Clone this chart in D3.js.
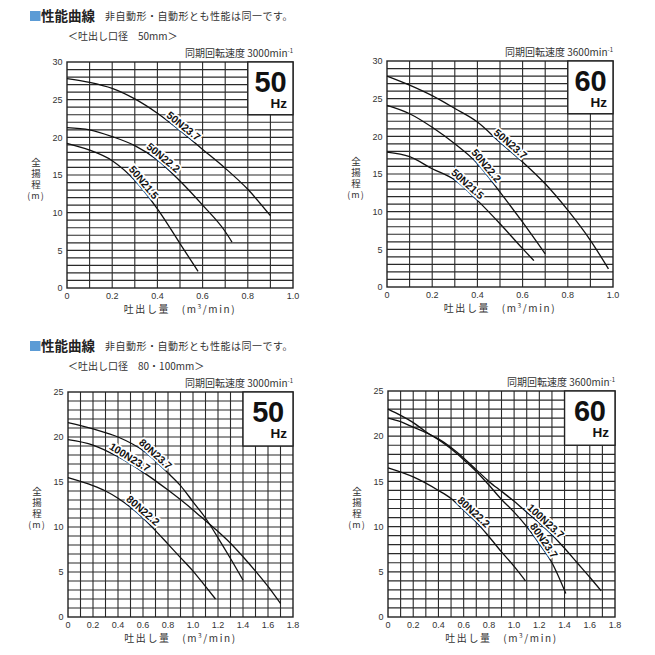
<!DOCTYPE html>
<html>
<head>
<meta charset="utf-8">
<script src="https://cdn.jsdelivr.net/npm/d3@7"></script>
<style>
  body { margin: 0; background: #fff; }
  svg { display: block; }
  .jp { font-family: "Noto Sans CJK JP", sans-serif; }
  .num { font-family: "Liberation Sans", Arial, sans-serif; }
</style>
</head>
<body>
<svg id="chart" width="655" height="655"></svg>
<script>
// performance curves: [flow m3/min, head m]
// 50mm discharge, 50Hz
var c50_50N237 = [[0,27.8],[0.1,27.3],[0.2,26.5],[0.3,25.1],[0.4,23.2],[0.5,20.9],[0.6,18.4],[0.7,15.9],[0.8,13.1],[0.9,9.6]];
var c50_50N222 = [[0,21.3],[0.1,21.0],[0.2,20.1],[0.3,18.9],[0.4,17.0],[0.5,14.2],[0.6,11.0],[0.7,7.5],[0.73,6.1]];
var c50_50N215 = [[0,19.2],[0.1,18.3],[0.2,16.9],[0.3,14.3],[0.4,10.5],[0.5,5.9],[0.58,2.2]];
// 50mm discharge, 60Hz
var c60_50N237 = [[0,28.0],[0.1,26.8],[0.2,25.4],[0.3,23.7],[0.4,21.9],[0.5,19.2],[0.6,16.6],[0.7,13.7],[0.8,10.2],[0.9,6.2],[0.98,2.4]];
var c60_50N222 = [[0,24.1],[0.1,23.0],[0.2,21.2],[0.3,19.0],[0.4,16.4],[0.5,12.6],[0.6,8.6],[0.7,4.4]];
var c60_50N215 = [[0,17.9],[0.1,17.3],[0.2,15.7],[0.3,14.2],[0.4,11.5],[0.5,8.4],[0.6,5.1],[0.65,3.5]];
// 80/100mm discharge, 50Hz
var c50_80N237 = [[0,21.6],[0.2,20.9],[0.4,20.0],[0.6,18.5],[0.8,16.0],[0.9,14.6],[1.0,12.8],[1.1,11.0],[1.2,8.8],[1.3,6.5],[1.4,4.1]];
var c50_100N237 = [[0,19.7],[0.2,19.1],[0.4,17.8],[0.6,16.1],[0.8,14.1],[1.0,11.9],[1.1,10.7],[1.2,9.5],[1.3,8.2],[1.4,6.7],[1.5,5.1],[1.6,3.4],[1.7,1.5]];
var c50_80N222 = [[0,15.5],[0.2,14.6],[0.3,14.0],[0.4,13.2],[0.5,12.2],[0.6,11.0],[0.7,9.6],[0.8,8.1],[0.9,6.6],[1.0,5.1],[1.1,3.4],[1.18,2.0]];
// 80/100mm discharge, 60Hz
var c60_80N237 = [[0,23.0],[0.1,22.3],[0.2,21.5],[0.3,20.5],[0.4,19.6],[0.5,18.6],[0.6,17.4],[0.7,16.1],[0.8,14.6],[0.9,13.0],[1.0,11.6],[1.1,10.0],[1.2,8.1],[1.3,6.0],[1.41,2.6]];
var c60_100N237 = [[0,22.0],[0.1,21.6],[0.2,21.0],[0.3,20.4],[0.4,19.7],[0.5,18.75],[0.6,17.6],[0.7,16.3],[0.8,15.0],[0.9,13.9],[1.0,12.8],[1.1,11.6],[1.2,10.4],[1.3,9.1],[1.4,7.6],[1.5,6.0],[1.6,4.4],[1.69,2.9]];
var c60_80N222 = [[0,16.5],[0.2,15.5],[0.4,14.0],[0.5,13.1],[0.6,11.8],[0.7,10.5],[0.8,8.9],[0.9,7.2],[1.0,5.6],[1.09,4.0]];

var ticksQ50 = [0, 0.2, 0.4, 0.6, 0.8, 1.0];
var ticksQ80 = [0, 0.2, 0.4, 0.6, 0.8, 1.0, 1.2, 1.4, 1.6, 1.8];
var ticksH30 = [0, 5, 10, 15, 20, 25, 30];
var ticksH25 = [0, 5, 10, 15, 20, 25];

var blocks = [
  {y: 0, size: "＜吐出し口径　50mm＞"},
  {y: 330, size: "＜吐出し口径　80・100mm＞"}
];

var panels = [
  {x0: 67, x1: 293, y0: 62, y1: 288, qMax: 1.0, hMax: 30, qt: ticksQ50, ht: ticksH30, hz: "50", speed: "3000", boxQ: 0.8, boxH: 23,
   curves: [{d: c50_50N237, name: "50N23.7", at: 0.50}, {d: c50_50N222, name: "50N22.2", at: 0.41}, {d: c50_50N215, name: "50N21.5", at: 0.32}]},
  {x0: 387, x1: 613, y0: 61, y1: 287, qMax: 1.0, hMax: 30, qt: ticksQ50, ht: ticksH30, hz: "60", speed: "3600", boxQ: 0.8, boxH: 23,
   curves: [{d: c60_50N237, name: "50N23.7", at: 0.53}, {d: c60_50N222, name: "50N22.2", at: 0.42}, {d: c60_50N215, name: "50N21.5", at: 0.34}]},
  {x0: 68, x1: 293, y0: 392, y1: 617, qMax: 1.8, hMax: 25, qt: ticksQ80, ht: ticksH25, hz: "50", speed: "3000", boxQ: 1.4, boxH: 19,
   curves: [{d: c50_80N237, name: "80N23.7", at: 0.67}, {d: c50_100N237, name: "100N23.7", at: 0.47}, {d: c50_80N222, name: "80N22.2", at: 0.57}]},
  {x0: 388, x1: 615, y0: 391, y1: 617, qMax: 1.8, hMax: 25, qt: ticksQ80, ht: ticksH25, hz: "60", speed: "3600", boxQ: 1.4, boxH: 19,
   curves: [{d: c60_100N237, name: "100N23.7", at: 1.22}, {d: c60_80N237, name: "80N23.7", at: 1.2}, {d: c60_80N222, name: "80N22.2", at: 0.65}]}
];

var svg = d3.select("#chart");
svg.append("rect").attr("width", 655).attr("height", 655).attr("fill", "#fff");

// headings
blocks.forEach(function(b) {
  var g = svg.append("g").attr("transform", "translate(0," + b.y + ")");
  g.append("rect").attr("x", 30).attr("y", 11).attr("width", 10.5).attr("height", 10).attr("fill", "#5b9bd5");
  g.append("text").attr("class", "jp").attr("x", 41).attr("y", 20.5)
    .attr("font-size", 13.5).attr("font-weight", "bold").attr("fill", "#222").text("性能曲線");
  g.append("text").attr("class", "jp").attr("x", 105).attr("y", 20)
    .attr("font-size", 10).attr("letter-spacing", 0.5).attr("fill", "#333").text("非自動形・自動形とも性能は同一です。");
  g.append("text").attr("class", "jp").attr("x", 68).attr("y", 40)
    .attr("font-size", 10).attr("fill", "#333").text(b.size);
});

function headAt(d, q) {
  var i = d3.bisector(function(p) { return p[0]; }).left(d, q);
  i = Math.max(1, Math.min(d.length - 1, i));
  var a = d[i - 1], b = d[i];
  return a[1] + (b[1] - a[1]) * (q - a[0]) / (b[0] - a[0]);
}

panels.forEach(function(p) {
  var x = d3.scaleLinear().domain([0, p.qMax]).range([p.x0, p.x1]);
  var y = d3.scaleLinear().domain([0, p.hMax]).range([p.y1, p.y0]);
  var g = svg.append("g");

  // grid
  var qs = d3.range(1, Math.round(p.qMax * 10)).map(function(i) { return i / 10; });
  var hs = d3.range(1, p.hMax);
  g.selectAll(".vg").data(qs).enter().append("line")
    .attr("x1", function(d) { return x(d); }).attr("x2", function(d) { return x(d); })
    .attr("y1", p.y0).attr("y2", p.y1).attr("stroke", "#2a2a2a").attr("stroke-width", 1.1);
  g.selectAll(".hg").data(hs).enter().append("line")
    .attr("y1", function(d) { return y(d); }).attr("y2", function(d) { return y(d); })
    .attr("x1", p.x0).attr("x2", p.x1).attr("stroke", "#2a2a2a").attr("stroke-width", 1.2);
  g.append("rect").attr("x", p.x0).attr("y", p.y0).attr("width", p.x1 - p.x0).attr("height", p.y1 - p.y0)
    .attr("fill", "none").attr("stroke", "#222").attr("stroke-width", 1.4);

  // Hz box
  g.append("rect").attr("x", x(p.boxQ)).attr("y", p.y0).attr("width", p.x1 - x(p.boxQ)).attr("height", y(p.boxH) - p.y0)
    .attr("fill", "#fff").attr("stroke", "#222").attr("stroke-width", 1.4);
  var bx = (x(p.boxQ) + p.x1) / 2;
  var ht = g.append("text").attr("class", "num").attr("font-weight", "bold").attr("fill", "#111");
  ht.append("tspan").attr("x", bx).attr("y", p.y0 + 30).attr("text-anchor", "middle")
    .attr("font-size", 29).attr("letter-spacing", -0.3).text(p.hz);
  ht.append("tspan").attr("x", p.x1 - 6).attr("y", p.y0 + 45.5).attr("text-anchor", "end")
    .attr("font-size", 13.5).attr("letter-spacing", 0).text("Hz");

  // axes labels
  g.selectAll(".yt").data(p.ht).enter().append("text").attr("class", "num")
    .attr("x", p.x0 - 4.5).attr("y", function(d) { return y(d) + 3.2; }).attr("text-anchor", "end")
    .attr("font-size", 9).attr("fill", "#333").text(function(d) { return d; });
  g.selectAll(".xt").data(p.qt).enter().append("text").attr("class", "num")
    .attr("x", function(d) { return x(d); }).attr("y", p.y1 + 11).attr("text-anchor", "middle")
    .attr("font-size", 9).attr("fill", "#333").text(function(d) { return d === 0 ? "0" : d3.format(".1f")(d); });

  var xt = g.append("text").attr("class", "jp").attr("x", (p.x0 + p.x1) / 2).attr("y", p.y1 + 25)
    .attr("text-anchor", "middle").attr("font-size", 10).attr("letter-spacing", 1.6).attr("fill", "#333");
  xt.append("tspan").text("吐出し量　(m");
  xt.append("tspan").attr("font-size", 6.5).attr("dy", -4).text("3");
  xt.append("tspan").attr("dy", 4).text("/min)");

  // vertical y title
  var mid = (p.y0 + p.y1) / 2;
  g.append("text").attr("class", "jp").attr("x", p.x0 - 31).attr("y", mid - 17.5)
    .style("writing-mode", "vertical-rl").attr("font-size", 9.5).attr("letter-spacing", 1.5)
    .attr("fill", "#333").text("全揚程");
  g.append("text").attr("class", "jp").attr("x", p.x0 - 31).attr("y", mid + 23.5)
    .attr("text-anchor", "middle").attr("font-size", 9).attr("letter-spacing", 1).attr("fill", "#333").text("(m)");

  var st = g.append("text").attr("class", "jp").attr("x", p.x1).attr("y", p.y0 - 5.5)
    .attr("text-anchor", "end").attr("font-size", 10).attr("fill", "#333");
  st.append("tspan").text("同期回転速度 " + p.speed + "min");
  st.append("tspan").attr("font-size", 6).attr("dy", -4).text("-1");

  // curves
  var line = d3.line().x(function(d) { return x(d[0]); }).y(function(d) { return y(d[1]); })
    .curve(d3.curveMonotoneX);
  p.curves.forEach(function(c) {
    g.append("path").attr("d", line(c.d)).attr("fill", "none").attr("stroke", "#111").attr("stroke-width", 1.3);
  });
  p.curves.forEach(function(c) {
    var px = x(c.at), py = y(headAt(c.d, c.at));
    var dx = x(c.at + 0.03) - x(c.at - 0.03);
    var dy = y(headAt(c.d, c.at + 0.03)) - y(headAt(c.d, c.at - 0.03));
    var ang = Math.atan2(dy, dx) * 180 / Math.PI;
    g.append("text").attr("class", "num")
      .attr("transform", "translate(" + px + "," + py + ") rotate(" + ang + ")")
      .attr("y", -2).attr("text-anchor", "middle")
      .attr("font-size", 10.5).attr("font-weight", "bold").attr("fill", "#111")
      .attr("stroke", "#fff").attr("stroke-width", 3.5).attr("paint-order", "stroke")
      .text(c.name);
  });
});
</script>
</body>
</html>
